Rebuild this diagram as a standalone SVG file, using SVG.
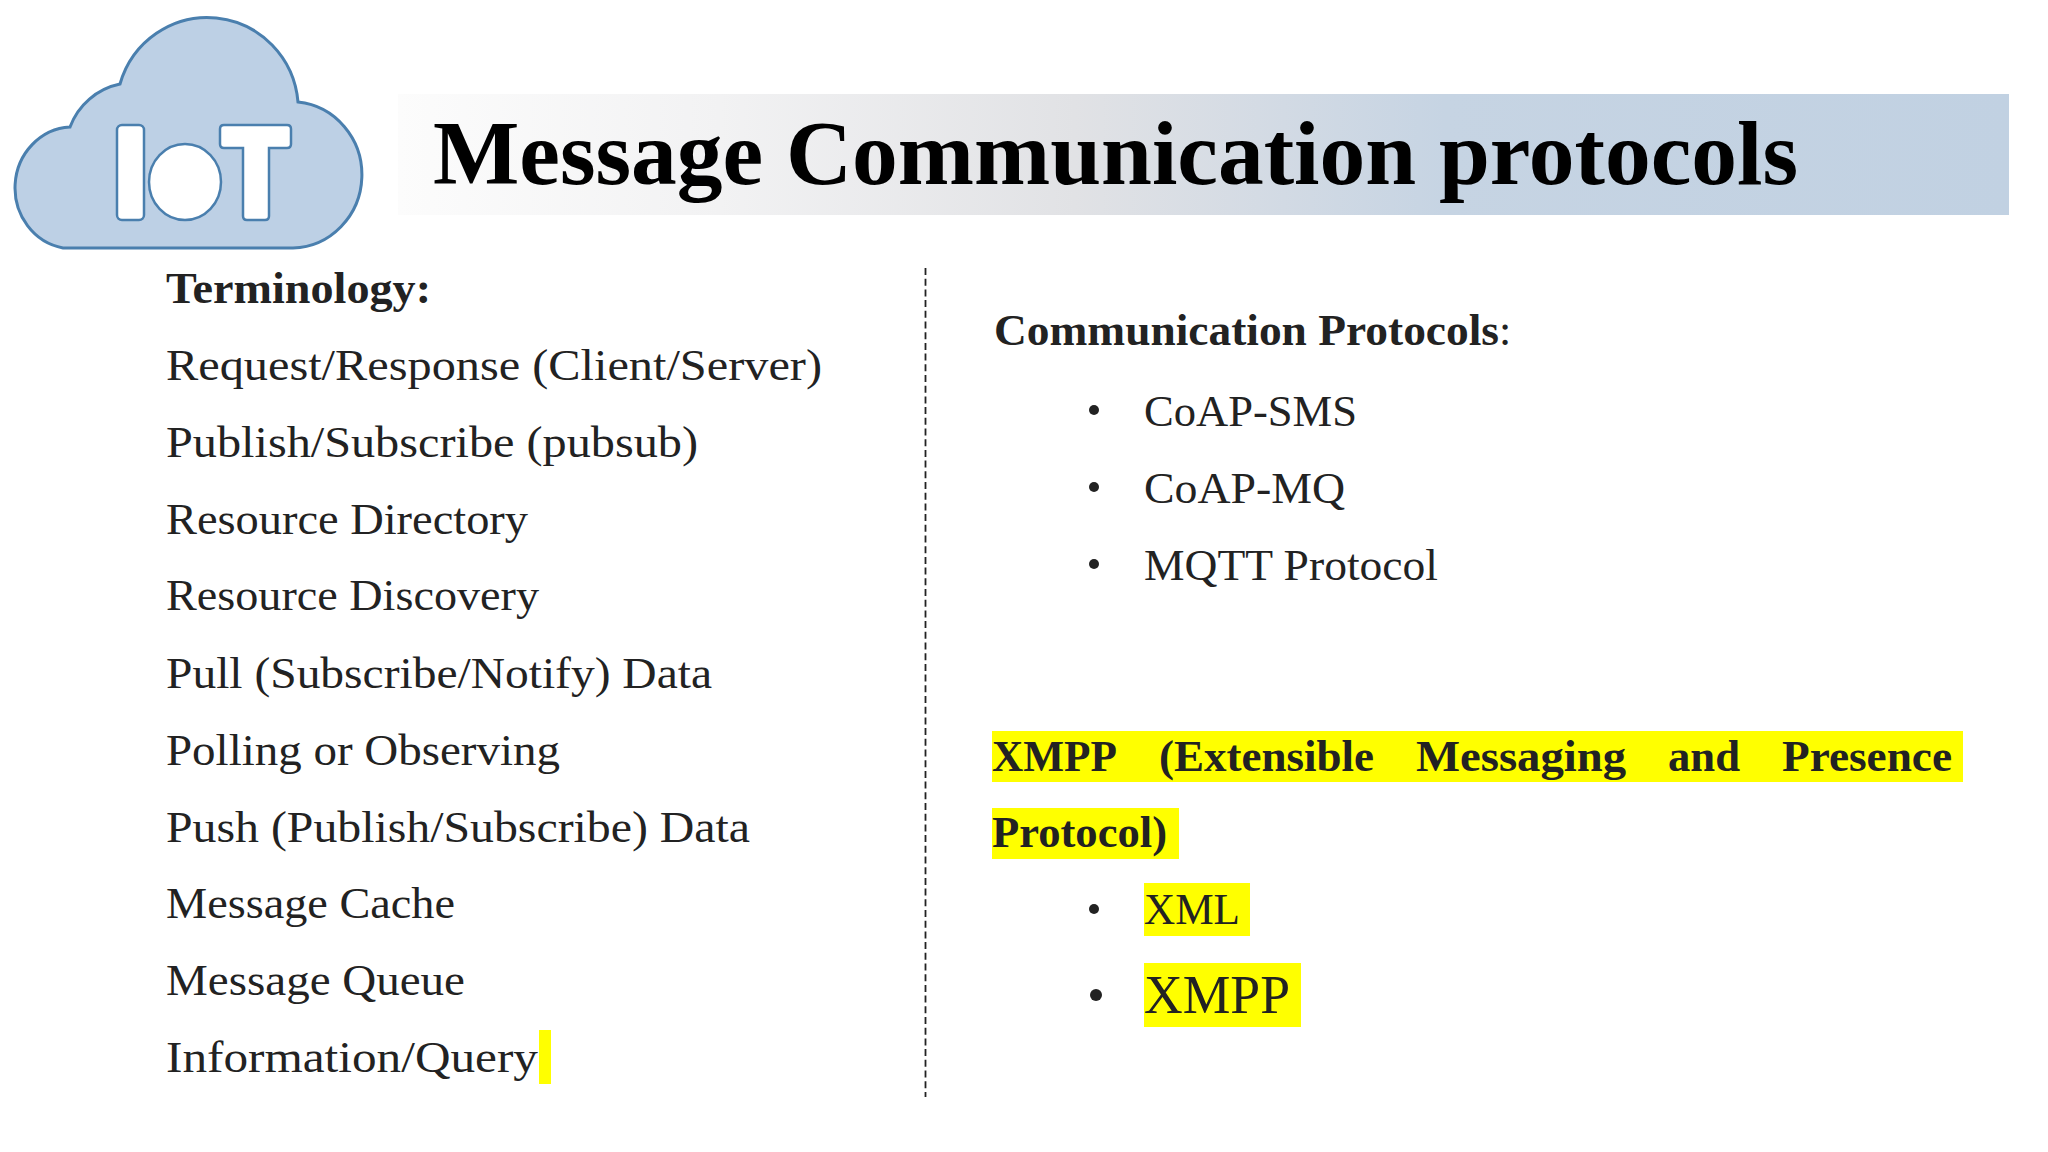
<svg xmlns="http://www.w3.org/2000/svg" width="2048" height="1152" viewBox="0 0 2048 1152">
<style>
text{font-family:"Liberation Serif","Times New Roman",serif;fill:#222}
.t{font-size:44px}
.b{font-size:44px;font-weight:bold}
.h{fill:#ffff00}
.d{fill:#222}
.l{fill:#fff;stroke:#4a7fae;stroke-width:2.5}
</style>
<defs>
<linearGradient id="g" x1="398" x2="2009" y1="0" y2="0" gradientUnits="userSpaceOnUse">
<stop offset="0" stop-color="#fcfcfc"/>
<stop offset="0.2" stop-color="#f2f2f3"/>
<stop offset="0.42" stop-color="#e1e2e5"/>
<stop offset="0.55" stop-color="#d2dae4"/>
<stop offset="0.65" stop-color="#c6d4e3"/>
<stop offset="1" stop-color="#c1d1e2"/>
</linearGradient>
</defs>
<rect width="2048" height="1152" fill="#fff"/>
<rect id="banner" x="398" y="94" width="1611" height="121" fill="url(#g)"/>
<g id="logo">
<path d="M63 248A58 61 0 0 1 70 127A68 68 0 0 1 120 84A91 92.500 0 0 1 298 102A71 73.200 0 0 1 293 248Z" fill="#bdd0e5" stroke="#4a7fae" stroke-width="3"/>
<rect class="l" x="117" y="125" width="27" height="95" rx="5"/>
<ellipse class="l" cx="185" cy="182" rx="36" ry="38"/>
<path class="l" d="M224 125H287Q291 125 291 129V144Q291 148 287 148H269V216Q269 220 265 220H247Q243 220 243 216V148H224Q220 148 220 144V129Q220 125 224 125Z"/>
</g>
<text id="title" x="433" y="184" style="font-size:90px;font-weight:bold;fill:#000" textLength="1365" lengthAdjust="spacingAndGlyphs">Message Communication protocols</text>
<g id="terminology">
<rect class="h" x="539" y="1030" width="12" height="54"/>
<text class="b" x="166" y="303" textLength="265" lengthAdjust="spacingAndGlyphs">Terminology:</text>
<text class="t" x="166" y="380" textLength="656" lengthAdjust="spacingAndGlyphs">Request/Response (Client/Server)</text>
<text class="t" x="166" y="457" textLength="532" lengthAdjust="spacingAndGlyphs">Publish/Subscribe (pubsub)</text>
<text class="t" x="166" y="534" textLength="362" lengthAdjust="spacingAndGlyphs">Resource Directory</text>
<text class="t" x="166" y="610" textLength="373" lengthAdjust="spacingAndGlyphs">Resource Discovery</text>
<text class="t" x="166" y="688" textLength="546" lengthAdjust="spacingAndGlyphs">Pull (Subscribe/Notify) Data</text>
<text class="t" x="166" y="765" textLength="394" lengthAdjust="spacingAndGlyphs">Polling or Observing</text>
<text class="t" x="166" y="842" textLength="584" lengthAdjust="spacingAndGlyphs">Push (Publish/Subscribe) Data</text>
<text class="t" x="166" y="918" textLength="289" lengthAdjust="spacingAndGlyphs">Message Cache</text>
<text class="t" x="166" y="995" textLength="299" lengthAdjust="spacingAndGlyphs">Message Queue</text>
<text class="t" x="166" y="1072" textLength="372" lengthAdjust="spacingAndGlyphs">Information/Query</text>
</g>
<line id="divider" x1="925.500" y1="268" x2="925.500" y2="1097" stroke="#222" stroke-width="1.800" stroke-dasharray="7 3.700"/>
<g id="protocols">
<text class="b" x="994" y="345" textLength="505" lengthAdjust="spacingAndGlyphs">Communication Protocols</text>
<text class="t" x="1499" y="345">:</text>
<circle class="d" cx="1094" cy="410" r="5"/>
<circle class="d" cx="1094" cy="487" r="5"/>
<circle class="d" cx="1094" cy="564" r="5"/>
<text class="t" x="1144" y="426" textLength="213" lengthAdjust="spacingAndGlyphs">CoAP-SMS</text>
<text class="t" x="1144" y="503" textLength="201" lengthAdjust="spacingAndGlyphs">CoAP-MQ</text>
<text class="t" x="1144" y="580" textLength="294" lengthAdjust="spacingAndGlyphs">MQTT Protocol</text>
</g>
<g id="xmpp">
<rect class="h" x="992" y="731" width="971" height="51"/>
<rect class="h" x="992" y="808" width="187" height="51"/>
<rect class="h" x="1144" y="883" width="106" height="53"/>
<rect class="h" x="1144" y="963" width="157" height="64"/>
<text class="b" x="992" y="771" textLength="125" lengthAdjust="spacingAndGlyphs">XMPP</text>
<text class="b" x="1159" y="771" textLength="215" lengthAdjust="spacingAndGlyphs">(Extensible</text>
<text class="b" x="1416" y="771" textLength="210" lengthAdjust="spacingAndGlyphs">Messaging</text>
<text class="b" x="1668" y="771" textLength="72" lengthAdjust="spacingAndGlyphs">and</text>
<text class="b" x="1782" y="771" textLength="170" lengthAdjust="spacingAndGlyphs">Presence</text>
<text class="b" x="992" y="847" textLength="175" lengthAdjust="spacingAndGlyphs">Protocol)</text>
<circle class="d" cx="1094" cy="909" r="5"/>
<circle class="d" cx="1096" cy="995" r="6"/>
<text class="t" x="1144" y="924" textLength="96" lengthAdjust="spacingAndGlyphs">XML</text>
<text x="1144" y="1013" style="font-size:54px" textLength="146" lengthAdjust="spacingAndGlyphs">XMPP</text>
</g>
</svg>
